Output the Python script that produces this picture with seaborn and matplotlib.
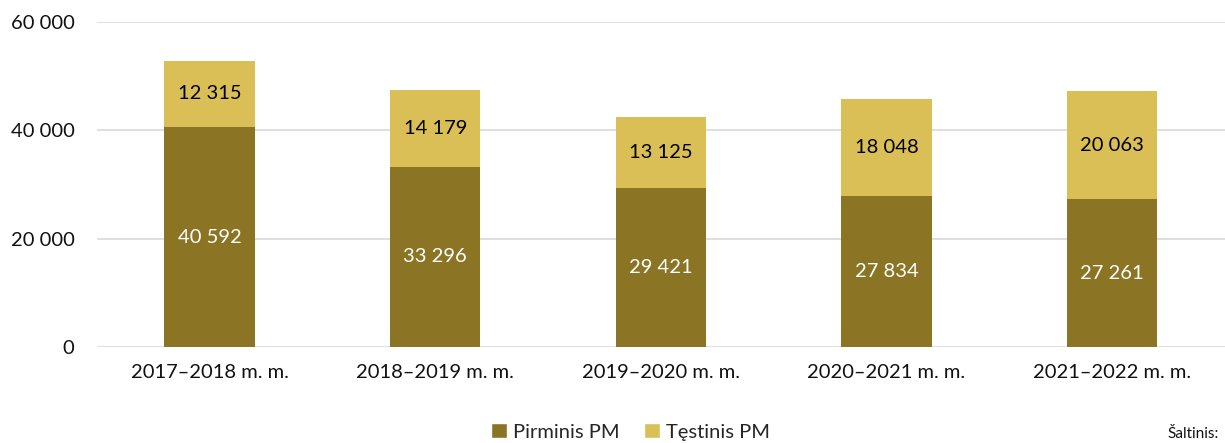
import matplotlib
matplotlib.use("Agg")
import matplotlib.pyplot as plt
import seaborn as sns
import pandas as pd
from matplotlib.patches import Patch

categories = ["2017–2018 m. m.", "2018–2019 m. m.", "2019–2020 m. m.", "2020–2021 m. m.", "2021–2022 m. m."]
pirminis = [40592, 33296, 29421, 27834, 27261]
testinis = [12315, 14179, 13125, 18048, 20063]
series_names = ["Pirminis PM", "Tęstinis PM"]
yticks = [0, 20000, 40000, 60000]

dark = "#8B7424"
light = "#D9BF56"

sns.set_theme(style="white")
plt.rcParams['font.family'] = ['Lato', 'DejaVu Sans']

fig = plt.figure(figsize=(12.25, 4.43), dpi=100)
ax = fig.add_axes([0.079, 0.2167, 0.921, 0.7333])

df = pd.DataFrame({"cat": categories, "pirm": pirminis,
                   "total": [a + b for a, b in zip(pirminis, testinis)]})
sns.barplot(data=df, x="cat", y="total", color=light, width=0.40, ax=ax, saturation=1, linewidth=0)
sns.barplot(data=df, x="cat", y="pirm", color=dark, width=0.40, ax=ax, saturation=1, linewidth=0)

def fmt(v):
    return f"{v:,}".replace(",", " ")

for i, (p, t) in enumerate(zip(pirminis, testinis)):
    ax.text(i, p / 2, fmt(p), ha="center", va="center", color="white", fontsize=14.5)
    ax.text(i, p + t / 2, fmt(t), ha="center", va="center", color="black", fontsize=14.5)

ax.set_ylim(0, 60000)
ax.set_xlim(-0.5, 4.5)
ax.set_yticks(yticks)
ax.set_yticklabels([fmt(v) for v in yticks], fontsize=14.5, color="#111111")
ax.tick_params(axis="x", labelsize=14.5, colors="#111111", length=0, pad=12)
ax.tick_params(axis="y", length=0, pad=16)
ax.set_xlabel("")
ax.set_ylabel("")
ax.yaxis.grid(True, color="#D9D9D9", linewidth=1.2)
ax.set_axisbelow(True)
for s in ax.spines.values():
    s.set_visible(False)

handles = [Patch(facecolor=dark, label=series_names[0]), Patch(facecolor=light, label=series_names[1])]
fig.legend(handles=handles, loc="center", bbox_to_anchor=(0.515, 0.025), ncol=2, frameon=False,
           fontsize=14.5, handlelength=0.8, handleheight=0.8, handletextpad=0.3, columnspacing=1.2)

fig.text(0.995, 0.004, "Šaltinis:", fontsize=11, ha="right", va="bottom", color="#111111")

fig.savefig("out.png", dpi=100)
